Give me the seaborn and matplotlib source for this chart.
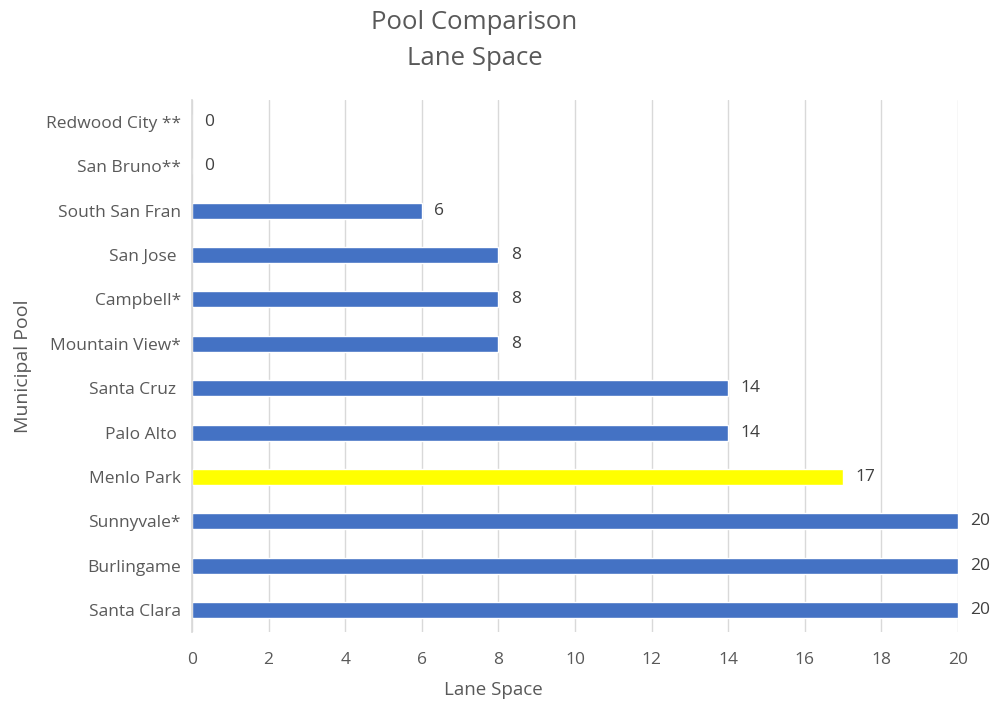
import matplotlib
matplotlib.use("Agg")
import matplotlib.pyplot as plt
import seaborn as sns
import pandas as pd

pools = ["Redwood City **", "San Bruno**", "South San Fran", "San Jose ", "Campbell*",
         "Mountain View*", "Santa Cruz ", "Palo Alto ", "Menlo Park", "Sunnyvale*",
         "Burlingame", "Santa Clara"]
lane_space = [0, 0, 6, 8, 8, 8, 14, 14, 17, 20, 20, 20]
bar_colors = ["#4472C4"] * 8 + ["#FFFF00"] + ["#4472C4"] * 3
x_ticks = [0, 2, 4, 6, 8, 10, 12, 14, 16, 18, 20]

df = pd.DataFrame({"pool": pools, "lane": lane_space})

sns.set_theme(style="white")
plt.rcParams['font.family'] = ['Open Sans', 'DejaVu Sans']
text_color = "#595959"

fig = plt.figure(figsize=(9.97, 7.08), dpi=100)
ax = fig.add_axes([0.1926, 0.107, 0.7683, 0.752])

sns.barplot(data=df, x="lane", y="pool", hue="pool", palette=bar_colors,
            legend=False, width=0.36, ax=ax, saturation=1)

for c in ax.containers:
    ax.bar_label(c, padding=9, fontsize=12.5, color="#404040")

ax.set_xlim(0, 20)
ax.set_ylim(11.5, -0.5)
ax.set_xticks(x_ticks)
ax.set_xticklabels([str(t) for t in x_ticks])
ax.grid(axis="x", color="#D9D9D9", linewidth=1)
ax.set_axisbelow(True)
for s in ["top", "right", "bottom"]:
    ax.spines[s].set_visible(False)
ax.spines["left"].set_color("#D9D9D9")
ax.tick_params(axis="both", length=0, labelsize=12.5, labelcolor=text_color)
ax.tick_params(axis="x", pad=14)
ax.tick_params(axis="y", pad=8)
ax.set_xlabel("Lane Space", fontsize=13.5, color=text_color)
ax.xaxis.set_label_coords(0.394, -0.092)
ax.set_ylabel("Municipal Pool", fontsize=14, color=text_color, labelpad=10)

fig.text(0.476, 0.968, "Pool Comparison", ha="center", va="center", fontsize=18.5, color=text_color)
fig.text(0.476, 0.917, "Lane Space", ha="center", va="center", fontsize=18.5, color=text_color)

fig.savefig("out.png", dpi=100)
